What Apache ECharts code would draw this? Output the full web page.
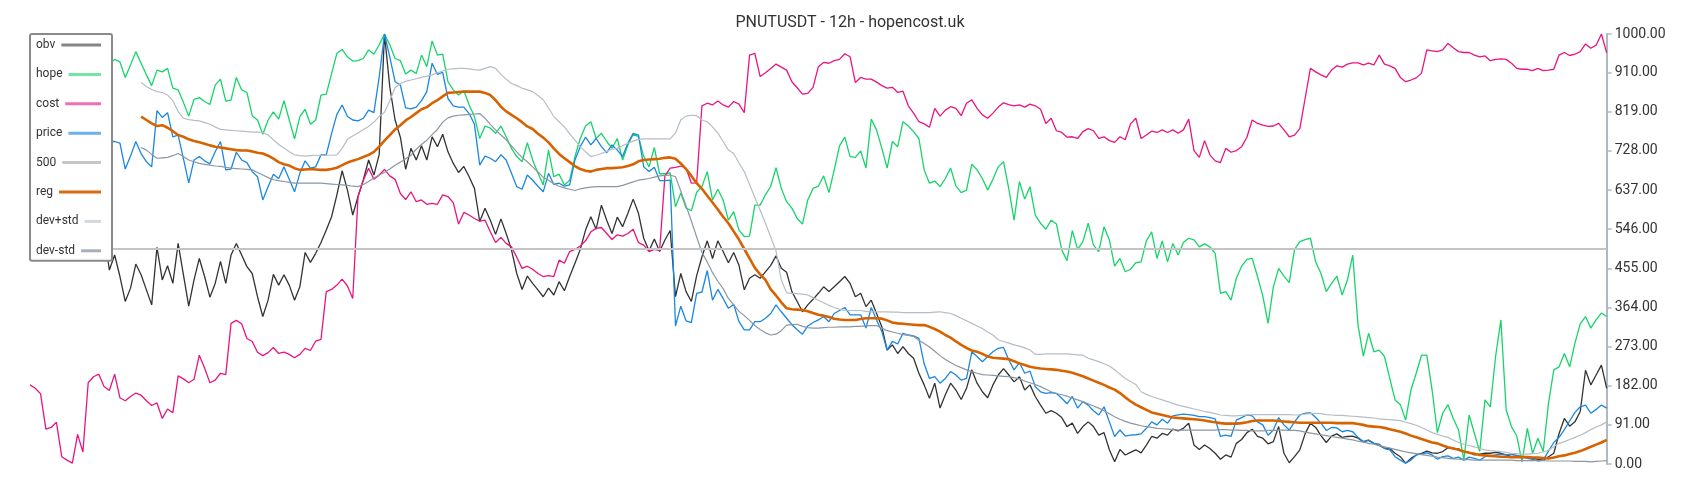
<!DOCTYPE html>
<html><head><meta charset="utf-8">
<script src="https://cdn.jsdelivr.net/npm/echarts@6/dist/echarts.min.js"></script>
<style>html,body{margin:0;padding:0;background:#fff}#chart{width:1700px;height:500px}</style>
</head><body><div id="chart"></div>
<script>
const chartTitle = 'PNUTUSDT - 12h - hopencost.uk';
const seriesNames = ['obv', 'hope', 'cost', 'price', '500', 'reg', 'dev+std', 'dev-std'];
const yTicks = { min: 0, max: 1000, interval: 91 };
const level500 = 500;
const bandStart = 21;

const obv = [505,520,498,530,512,490,515,535,508,495,520,540,512,500,540,
451,486,436,378,409,465,440,405,370,504,428,461,420,513,440,367,428,478,436,388,420,471,420,486,513,
486,459,443,389,343,381,441,416,440,416,381,412,492,469,490,515,544,575,626,682,637,579,622,661,707,672,720,
1000,877,800,760,
685,734,707,740,707,761,738,767,726,699,678,692,668,641,564,595,567,534,570,536,498,443,406,437,420,405,389,409,393,424,403,436,467,499,544,575,546,602,567,536,574,552,583,616,583,525,496,523,494,521,543,389,443,401,378,438,
482,519,478,519,494,468,492,462,405,432,440,432,447,462,484,455,446,401,378,354,370,383,397,412,401,412,424,436,420,389,397,366,381,350,319,265,277,257,273,257,246,211,184,153,188,130,161,188,172,150,176,219,188,168,154,184,207,
222,207,191,203,172,184,157,137,118,124,118,108,87,95,71,87,98,87,67,73,33,5,34,21,27,33,26,44,64,60,71,67,81,77,83,95,44,34,44,36,25,11,21,16,48,57,73,81,64,60,47,52,87,25,3,17,33,
70,95,85,66,50,65,70,62,64,65,60,52,55,48,43,37,36,25,17,2,13,21,25,30,26,25,29,38,36,35,29,27,21,23,25,25,27,25,21,17,19,16,17,13,11,9,17,25,71,106,88,98,122,218,184,207,230,176];

const hope = [930,945,920,955,940,915,935,950,925,940,960,935,920,945,950,930,
941,935,899,928,959,932,905,880,916,912,920,874,870,841,809,848,852,843,836,881,895,844,846,899,870,864,810,800,767,800,819,802,845,800,756,808,825,790,800,858,860,908,955,964,947,937,938,943,963,953,975,
1000,
975,943,938,907,916,908,951,924,984,951,953,889,870,858,868,835,808,757,786,781,769,786,761,734,715,703,747,707,677,649,730,668,674,649,660,715,757,786,796,757,769,750,734,757,707,742,767,761,715,691,736,675,675,677,598,630,595,589,632,
645,680,614,639,614,567,587,544,529,530,602,602,626,646,689,641,610,595,571,558,614,641,646,670,631,684,740,760,715,713,728,688,802,777,734,688,750,738,796,786,773,757,684,653,658,645,664,688,647,631,637,697,684,664,637,662,691,
703,640,567,657,616,645,579,560,546,567,558,498,473,543,499,517,560,509,494,552,521,460,478,447,453,468,470,519,540,478,519,470,513,486,515,525,521,505,512,505,490,397,401,381,432,460,476,478,436,391,327,412,455,437,422,499,517,
522,525,470,443,401,420,437,393,428,486,323,251,304,261,265,250,199,149,138,102,172,211,253,253,172,73,118,138,106,79,9,114,71,29,149,133,250,335,126,87,65,5,83,25,60,29,141,219,226,257,226,281,326,343,316,335,351,343];

const cost = [184,176,163,81,85,97,17,9,2,69,28,189,203,209,180,171,209,154,147,157,165,160,147,136,142,106,128,119,205,198,189,197,253,223,189,195,211,208,327,334,
326,292,285,260,252,259,271,257,260,255,247,255,269,264,286,290,401,406,416,430,414,385,622,660,688,662,672,685,670,662,629,
615,633,610,614,604,606,604,626,622,608,558,585,579,571,565,567,540,515,527,513,505,481,455,460,453,443,436,438,436,474,467,494,499,507,519,540,548,550,536,522,533,530,536,546,515,509,494,499,496,
670,688,690,693,688,653,654,
833,839,835,844,835,830,843,837,817,951,955,901,910,920,930,923,916,889,875,860,862,876,924,934,932,938,941,954,947,887,899,895,895,888,880,874,876,864,867,833,816,796,791,783,827,809,823,831,827,810,839,847,827,812,804,816,830,
840,836,833,835,830,837,833,825,792,804,775,771,760,761,757,773,780,775,757,761,752,748,761,754,791,804,757,765,774,771,777,771,777,769,777,802,729,713,752,719,705,701,734,725,729,738,760,800,792,788,785,786,792,777,761,765,
780,850,
920,912,905,899,916,926,923,930,933,933,928,932,928,951,930,926,920,899,889,893,898,909,963,961,959,963,978,968,959,957,957,951,947,949,938,941,942,941,932,920,918,918,915,920,915,916,918,951,957,950,953,959,977,967,974,1000,
956];

const price = [760,745,775,750,735,765,780,755,740,770,760,735,755,775,760,750,
750,746,686,716,750,722,703,691,822,806,817,761,765,710,654,707,715,705,698,726,750,684,686,725,707,701,680,668,614,645,674,664,691,662,633,676,705,688,691,719,719,769,813,835,808,800,798,804,823,817,900,
1000,947,889,881,828,826,830,845,866,932,906,911,850,833,830,830,815,790,695,716,711,703,719,707,676,645,639,672,660,646,633,676,650,653,646,649,707,738,760,742,757,738,724,742,730,715,746,769,765,691,680,690,659,659,660,321,367,333,329,397,
400,450,381,406,385,362,371,331,312,312,331,331,339,350,370,354,339,324,312,302,321,329,335,343,331,350,357,364,347,347,347,316,364,335,308,265,285,279,304,300,298,292,233,199,203,188,199,215,207,195,199,261,250,238,250,261,269,
271,242,219,236,211,216,180,168,164,166,164,153,140,157,130,145,137,124,114,133,98,64,79,65,67,68,70,83,98,91,104,95,112,114,116,115,113,110,110,108,105,64,67,64,102,108,114,112,98,91,67,79,108,91,79,98,114,
118,119,108,95,78,85,84,75,78,75,62,52,56,48,46,36,33,17,9,2,9,21,23,26,21,11,17,19,13,16,9,16,13,9,17,19,21,23,21,23,20,17,13,11,7,9,30,50,62,80,100,120,133,137,118,127,137,130];

const reg = [808,800,792,786,788,782,774,765,761,755,
751,748,745,741,738,736,734,732,730,729,
729,727,724,722,717,710,702,697,694,688,
684,685,686,685,684,684,686,689,695,701,
705,709,714,719,726,738,752,765,778,788,
799,807,816,825,830,839,846,855,863,864,
865,866,866,866,866,863,858,846,831,820,
812,804,795,785,779,768,759,748,734,721,
711,702,693,686,682,680,684,686,688,688,
689,690,693,697,704,707,708,709,710,712,
713,710,699,686,670,653,640,624,608,592,
575,560,541,522,500,478,456,441,428,406,
392,376,362,360,359,358,355,351,347,345,
342,338,336,335,335,335,337,339,339,339,
338,334,329,327,326,325,324,323,323,319,
314,308,300,294,285,277,270,264,261,256,
250,247,246,245,244,239,234,230,226,224,
222,221,220,219,217,215,212,208,204,199,
194,189,184,178,173,165,155,146,138,132,
126,120,117,114,111,108,107,106,105,104,
103,101,99,97,95,94,94,94,95,97,
100,101,101,101,101,100,99,98,97,96,
96,96,96,96,96,96,95,95,95,95,
93,91,88,87,86,84,81,78,75,71,
66,62,58,54,50,48,43,39,36,33,
29,26,24,21,20,19,18,17,17,16,
16,16,16,15,15,14,13,15,18,20,
23,26,30,35,40,45,50,56];

const devPlus = [887,878,871,866,864,858,845,820,804,801,
799,798,794,790,784,778,777,776,775,774,
773,772,772,771,765,754,743,735,726,719,
717,716,717,718,718,718,718,719,734,755,
763,770,778,785,795,808,818,845,875,885,
890,893,896,899,902,905,910,914,918,919,
920,920,919,917,916,920,924,920,906,895,
885,880,874,870,866,857,847,828,808,796,
784,768,753,738,726,715,718,722,727,732,
734,740,746,751,755,756,756,756,756,756,
756,770,800,809,811,810,800,796,784,770,
750,730,722,700,680,650,620,590,560,528,
495,428,398,397,396,395,393,387,381,375,
369,364,360,357,357,357,357,355,354,354,
354,354,353,353,352,352,352,352,352,352,
353,354,352,350,345,339,333,327,321,315,
307,300,289,285,281,277,274,270,265,255,
255,256,256,256,256,256,255,254,253,246,
242,238,233,228,219,209,199,192,185,168,
162,157,153,149,145,141,137,134,131,128,
125,122,120,117,114,113,112,112,113,114,
115,115,115,115,115,115,115,115,114,114,
116,117,118,117,115,114,113,113,112,111,
110,109,108,107,105,104,103,102,101,97,
94,90,85,79,73,69,65,62,56,50,
46,43,40,36,33,31,30,29,27,25,
24,23,23,24,25,28,32,40,48,52,
57,62,67,73,80,86,91,98];

const devMinus = [736,730,720,711,712,713,717,722,715,707,
703,699,697,695,693,692,690,688,687,686,
685,684,678,672,666,661,659,657,655,653,
653,653,653,653,653,652,651,650,649,648,
646,645,650,657,665,672,678,686,695,702,
710,718,732,743,753,766,778,795,805,809,
811,812,813,814,815,804,790,777,765,754,
740,726,713,703,691,679,667,660,652,646,
642,639,636,640,642,644,645,645,645,645,
645,648,652,656,660,662,664,667,670,671,
672,668,635,600,565,528,492,470,445,425,
408,385,370,355,345,334,322,313,305,300,
302,310,323,324,325,320,317,316,316,317,
318,318,319,319,319,320,320,321,322,322,
316,310,307,304,301,299,297,288,280,272,
262,252,243,236,229,224,219,215,211,208,
207,206,205,204,203,201,198,193,189,185,
180,174,168,164,161,158,153,149,145,140,
135,130,124,117,110,104,99,95,92,89,
87,85,83,82,81,80,79,79,79,79,
79,79,79,79,80,80,79,79,78,78,
77,77,77,78,78,79,79,78,78,77,
74,72,70,68,66,64,62,60,58,56,
53,51,48,46,43,40,37,34,31,28,
26,24,22,20,18,16,15,13,12,11,
10,10,9,9,9,9,9,9,9,9,
8,8,8,8,8,8,7,7,7,7,
7,6,6,6,5,6,7,8];

const categories = obv.map((_, i) => String(i));

const lineColors = ['#333333', '#17d46a', '#e8157f', '#1a87e0', '#c4c4c4', '#d76200', '#b5bdc5', '#8c97a2'];
const legendColors = ['#858585', '#72e6a4', '#f06eb3', '#6cb0ec', '#c6c6c6', '#d86a0e', '#d3d8dc', '#a7b0b8'];

const ctx = document.createElement('canvas').getContext('2d');
ctx.font = '12px Roboto';
const rich = { t: { fontSize: 12, color: '#333', fontFamily: 'Roboto', lineHeight: 14 }, g: { width: 6, height: 3 } };
seriesNames.forEach((n, k) => {
  const tw = ctx.measureText(n).width;
  rich['l' + k] = { width: Math.max(10, 65 - 6 - tw), height: 3, backgroundColor: legendColors[k], verticalAlign: 'middle' };
});

const withOffset = (arr) => arr.map((v, k) => [k + bandStart, v]);
const lineSeries = (name, data, k, width, extra) => Object.assign({
  name, type: 'line', data, symbol: 'none', showSymbol: false,
  color: lineColors[k], lineStyle: { width, color: lineColors[k] },
  emphasis: { disabled: true }, animation: false
}, extra || {});

const chart = echarts.init(document.getElementById('chart'), null, { renderer: 'canvas' });
chart.setOption({
  animation: false,
  backgroundColor: '#fff',
  textStyle: { fontFamily: 'Roboto' },
  title: { text: chartTitle, left: 'center', top: 10, textStyle: { fontSize: 16, fontWeight: 'normal', color: '#333', fontFamily: 'Roboto' } },
  grid: { left: 30, right: 93.3, top: 34, bottom: 36, containLabel: false },
  legend: {
    data: seriesNames, orient: 'vertical', left: 30, top: 34,
    itemWidth: 0, itemHeight: 0, itemGap: 15.4, align: 'left',
    padding: [4, 11, 3, 0], backgroundColor: '#fff', borderColor: '#8a8a8a', borderWidth: 2, borderRadius: 2,
    selectedMode: false, z: 10,
    formatter: (name) => '{t|' + name + '}{g|}{l' + seriesNames.indexOf(name) + '|}',
    textStyle: { rich, fontSize: 12, lineHeight: 14 }
  },
  xAxis: { type: 'category', data: categories, boundaryGap: false, show: false },
  yAxis: {
    type: 'value', position: 'right', min: yTicks.min, max: yTicks.max, interval: yTicks.interval,
    axisLine: { show: true, lineStyle: { color: '#b0b9c2', width: 2 } },
    axisTick: { show: true, length: 5, lineStyle: { color: '#b0b9c2', width: 1.5 } },
    axisLabel: { formatter: (v) => v.toFixed(2), color: '#333', fontSize: 14, fontFamily: 'Roboto', margin: 8 },
    splitLine: { show: false }
  },
  series: [
    lineSeries('obv', obv, 0, 1.3),
    lineSeries('hope', hope, 1, 1.3),
    lineSeries('cost', cost, 2, 1.3),
    lineSeries('price', price, 3, 1.3),
    lineSeries('500', [], 4, 2, { markLine: { silent: true, symbol: 'none', label: { show: false }, lineStyle: { color: lineColors[4], width: 2, type: 'solid' }, data: [{ yAxis: level500 }] } }),
    lineSeries('reg', withOffset(reg), 5, 2.6),
    lineSeries('dev+std', withOffset(devPlus), 6, 1.2),
    lineSeries('dev-std', withOffset(devMinus), 7, 1.2)
  ]
});
</script></body></html>
